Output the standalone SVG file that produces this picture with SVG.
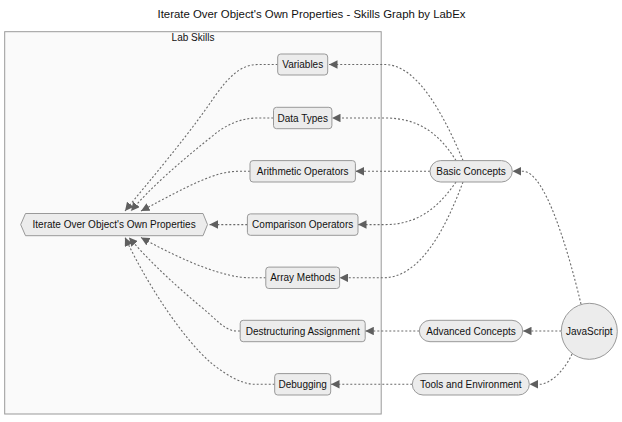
<svg xmlns="http://www.w3.org/2000/svg" width="622" height="422" viewBox="0 0 622 422">
<style>
text{font-family:"Liberation Sans",Arial,sans-serif;fill:#111;text-anchor:middle;}
.lbl{font-size:10px;}
.title{font-size:11.4px;}
.node{fill:#ececec;stroke:#999;stroke-width:1;}
.cluster{fill:#fafafa;stroke:#999;stroke-width:1;}
.edge{fill:none;stroke:#6a6a6a;stroke-width:1.1;stroke-dasharray:2 2;marker-end:url(#arr);}
</style>
<defs>
<marker id="arr" viewBox="0 0 10 10" refX="10" refY="5" markerWidth="8.5" markerHeight="8.5" markerUnits="userSpaceOnUse" orient="auto">
<path d="M0,0 L10,5 L0,10 z" fill="#5f5f5f"/>
</marker>
</defs>
<rect width="622" height="422" fill="#ffffff"/>
<text class="title" x="311.5" y="18">Iterate Over Object's Own Properties - Skills Graph by LabEx</text>
<g id="cluster-lab-skills">
<rect class="cluster" x="4.7" y="31.7" width="376.5" height="382.3"/>
<text class="lbl" x="193" y="41">Lab Skills</text>
</g>
<g id="connectors">
<path class="edge" d="M463,160.5 C448,125 420,64.5 385,64.5 L329,64.5"/>
<path class="edge" d="M456,160.5 C440,135 420,118 385,118 L332,118"/>
<path class="edge" d="M430,171.3 L355.5,171.3"/>
<path class="edge" d="M456,182 C440,205 420,224.6 385,224.6 L358,224.6"/>
<path class="edge" d="M463,182 C445,230 420,277.8 383,277.8 L339.5,277.8"/>
<path class="edge" d="M581,304 C568,250 545,171.3 523,171.3 L512.5,171.3"/>
<path class="edge" d="M561.3,331 L523,331"/>
<path class="edge" d="M572,354 C565,370 550,384.3 540,384.3 L529.5,384.3"/>
<path class="edge" d="M419.3,331 L365.3,331"/>
<path class="edge" d="M412.3,384.3 L331,384.3"/>
<path class="edge" d="M277.7,64.5 L258,64.5 C240,64.5 228,78 215,96 C185,140 150,180 125,211"/>
<path class="edge" d="M273.3,118 L258,118 C240,118 225,125 210,138 C180,162 150,188 131,211"/>
<path class="edge" d="M250,171.3 L238,171.3 C215,171.3 190,185 141,211"/>
<path class="edge" d="M247.3,224.6 L209.5,224.6"/>
<path class="edge" d="M265.7,277.8 L250,277.8 C225,277.8 185,262 141,237.5"/>
<path class="edge" d="M240,331 L236,331 C225,331 215,318 200,306 C175,285 150,262 129,237.5"/>
<path class="edge" d="M274.7,384.3 L255,384.3 C240,384.3 222,372 210,362 C185,340 150,290 125,237.5"/>
</g>
<g id="node-iterate">
<polygon class="node" points="20.7,224.6 25.5,213.5 203,213.5 207.5,224.6 203,235.7 25.5,235.7"/>
<text class="lbl" x="114.1" y="228.1">Iterate Over Object's Own Properties</text>
</g>
<g id="node-variables">
<rect class="node" x="277.7" y="54" width="50" height="21" rx="3"/>
<text class="lbl" x="302.7" y="68">Variables</text>
</g>
<g id="node-data-types">
<rect class="node" x="273.5" y="107.3" width="58.4" height="21.4" rx="3"/>
<text class="lbl" x="302.7" y="121.5">Data Types</text>
</g>
<g id="node-arithmetic">
<rect class="node" x="250" y="160.6" width="105.4" height="21.4" rx="3"/>
<text class="lbl" x="302.7" y="174.8">Arithmetic Operators</text>
</g>
<g id="node-comparison">
<rect class="node" x="247.4" y="213.9" width="110.6" height="21.4" rx="3"/>
<text class="lbl" x="302.7" y="228.1">Comparison Operators</text>
</g>
<g id="node-array-methods">
<rect class="node" x="265.8" y="267.1" width="73.8" height="21.4" rx="3"/>
<text class="lbl" x="302.7" y="281.3">Array Methods</text>
</g>
<g id="node-destructuring">
<rect class="node" x="240.2" y="320.3" width="125" height="21.4" rx="3"/>
<text class="lbl" x="302.7" y="334.5">Destructuring Assignment</text>
</g>
<g id="node-debugging">
<rect class="node" x="274.7" y="373.6" width="56" height="21.4" rx="3"/>
<text class="lbl" x="302.7" y="387.8">Debugging</text>
</g>
<g id="node-basic-concepts">
<rect class="node" x="430" y="160.6" width="82.3" height="21.4" rx="10.7"/>
<text class="lbl" x="471.1" y="174.8">Basic Concepts</text>
</g>
<g id="node-advanced-concepts">
<rect class="node" x="419.3" y="320.3" width="103.4" height="21.4" rx="10.7"/>
<text class="lbl" x="471" y="334.5">Advanced Concepts</text>
</g>
<g id="node-tools">
<rect class="node" x="412.3" y="373.6" width="117" height="21.4" rx="10.7"/>
<text class="lbl" x="470.8" y="387.8">Tools and Environment</text>
</g>
<g id="node-javascript">
<circle class="node" cx="589.3" cy="331.3" r="28"/>
<text class="lbl" x="589.3" y="334.8">JavaScript</text>
</g>
</svg>
